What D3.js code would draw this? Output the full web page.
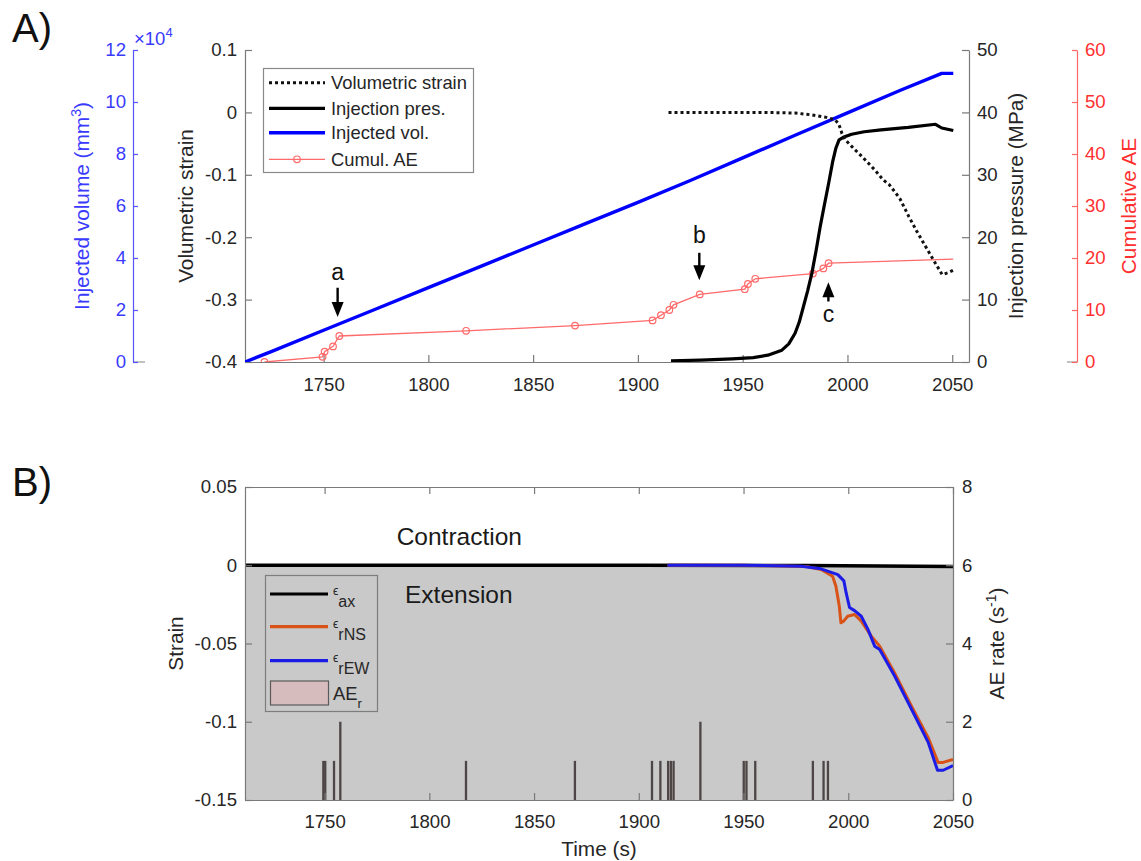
<!DOCTYPE html>
<html><head><meta charset="utf-8">
<script src="https://cdn.jsdelivr.net/npm/d3@7"></script>
<style>
html,body{margin:0;padding:0;background:#fff;}
svg{display:block;}
text{font-family:"Liberation Sans",Arial,Helvetica,sans-serif;}
</style></head>
<body>
<svg id="chart" width="1141" height="861"></svg>
<script>
// ---------------- DATA ----------------
// Panel A
const injVolTime = [1712.5,1725,1750,1775,1800,1825,1850,1875,1900,1925,1950,1975,2000,2025,2045,2050.5];
const injVolValue = [0,0.40,1.22,2.04,2.86,3.68,4.50,5.32,6.14,6.98,7.85,8.72,9.58,10.44,11.10,11.10]; // x1e4 mm3

const presTime = [1915.8,1930,1945,1955,1962,1968.7,1972,1975,1977,1979,1981,1983,1985,1987,1989,1991,1993,1994.5,1996,1998,2002,2008,2016,2029,2042,2045,2050.5];
const presValue = [0.2,0.3,0.5,0.7,1.1,1.9,2.9,4.6,6.4,8.9,11.4,14.2,17.8,21.7,25.2,28.6,32.2,34.3,35.6,36.0,36.5,36.9,37.2,37.6,38.1,37.5,37.1]; // MPa

const volStrainTime = [1914.6,1940,1960,1975,1983,1990,1994,1995.8,1997.4,1999,2003,2007,2013,2017,2020,2025,2029.3,2033,2037.3,2042,2045.2,2048,2050.5];
const volStrainValue = [0,0,0,-0.001,-0.004,-0.008,-0.012,-0.018,-0.034,-0.044,-0.058,-0.071,-0.092,-0.108,-0.116,-0.138,-0.167,-0.19,-0.215,-0.242,-0.26,-0.257,-0.253];

const cumAETime = [1721.8,1749.5,1750.5,1754.5,1757.5,1818,1870,1907,1911,1915,1917,1929.5,1951,1952.5,1956,1983.5,1988.5,1991,2050.5];
const cumAEValue = [0,1,2,3,5,6,7,8,9,10,11,13,14,15,16,17,18,19,19.8];
const cumAEMarker = [1,1,1,1,1,1,1,1,1,1,1,1,1,1,1,1,1,1,0];

const arrowLabels = ["a","b","c"];
const arrowTime = [1756.7,1929.3,1990.9];
const arrowTail = [-0.281,-0.225,-0.303];   // in volumetric-strain axis units
const arrowTip = [-0.328,-0.269,-0.272];
const arrowText = [-0.269,-0.209,-0.336];

const topXTicks = [1750,1800,1850,1900,1950,2000,2050];
const volStrainTicks = [-0.4,-0.3,-0.2,-0.1,0,0.1];
const injVolTicks = [0,2,4,6,8,10,12];
const presTicks = [0,10,20,30,40,50];
const cumAETicks = [0,10,20,30,40,50,60];

// Panel B
const axTime = [1712,1900,1980,2050];
const axValue = [0,0,-0.0002,-0.0008];
const rNSTime = [1913.7,1950,1980,1987,1992.5,1994.1,1995.7,1996.5,1997.8,1999.7,2003,2006.2,2011,2015,2022.2,2030.2,2038.1,2042.9,2045.3,2050];
const rNSValue = [0,0,-0.0008,-0.0027,-0.007,-0.0134,-0.026,-0.0368,-0.0357,-0.0326,-0.0315,-0.0357,-0.0453,-0.0517,-0.069,-0.09,-0.11,-0.126,-0.126,-0.124];
const rEWTime = [1913.7,1950,1977.5,1987,1995,1997.9,1999,2000.6,2003,2006.2,2009.4,2012.6,2015,2022.2,2030.2,2038.1,2042.6,2045.3,2050];
const rEWValue = [0,0,-0.0006,-0.0023,-0.006,-0.010,-0.0177,-0.027,-0.029,-0.0326,-0.041,-0.0517,-0.0538,-0.0709,-0.092,-0.113,-0.131,-0.131,-0.128];

const aeRateTime = [1749.4,1750.3,1754.5,1757.5,1817.5,1869.5,1906.3,1910.3,1914,1915.3,1916.6,1929.4,1950.1,1951.4,1955.6,1983.1,1988.2,1990.3];
const aeRateValue = [1,1,1,2,1,1,1,1,1,1,1,2,1,1,1,1,1,1];

const botXTicks = [1750,1800,1850,1900,1950,2000,2050];
const strainTicks = [-0.15,-0.1,-0.05,0,0.05];
const rateTicks = [0,2,4,6,8];

// ---------------- STYLE ----------------
const TXT = "#262626", AXC = "#7a7a7a";
const BLUE = "#0000ff", BLUETXT = "#3a3aff", RED = "#ff3030", REDLINE = "#ff6a6a";
const ORANGE = "#d95319", BLUE2 = "#1c1ce6", GREYFILL = "#c9c9c9";
const TICKFS = 18.6, LABFS = 20.8, LEGFS = 18.4;

const svg = d3.select("#chart");
const zip = (a,b) => a.map((t,i)=>[t,b[i]]);

// ---------------- PANEL A ----------------
const xT = d3.scaleLinear().domain([1712.5,2058]).range([245,969]);
const yVS = d3.scaleLinear().domain([-0.4,0.1]).range([362,50]);
const yIV = d3.scaleLinear().domain([0,12]).range([362,50]);
const yP = d3.scaleLinear().domain([0,50]).range([362,50]);
const yAE = d3.scaleLinear().domain([0,60]).range([362,50]);

svg.append("text").attr("x",12).attr("y",42).attr("font-size",40).attr("fill","#111").text("A)");
svg.append("text").attr("x",12).attr("y",496).attr("font-size",40).attr("fill","#111").text("B)");

const defs = svg.append("defs");
defs.append("clipPath").attr("id","clipA").append("rect")
  .attr("x",xT.range()[0]).attr("y",yVS.range()[1]-5)
  .attr("width",xT.range()[1]-xT.range()[0]).attr("height",yVS.range()[0]-yVS.range()[1]+5);

function styleAxis(g, color, lineColor){
  g.selectAll("path.domain").attr("stroke",lineColor||AXC).attr("stroke-width",1.2);
  g.selectAll(".tick line").attr("stroke",lineColor||AXC).attr("stroke-width",1.2);
  g.selectAll(".tick text").attr("fill",color).attr("font-size",TICKFS)
    .attr("font-family",'"Liberation Sans",Arial,sans-serif');
}
const fmt = d => String(+d.toFixed(4));

// bottom x axis of top panel
const gxT = svg.append("g").attr("transform",`translate(0,${yVS.range()[0]})`)
  .call(d3.axisBottom(xT).tickValues(topXTicks).tickSizeInner(-7).tickSizeOuter(0).tickPadding(15.5).tickFormat(fmt));
styleAxis(gxT, TXT);
// left volumetric strain axis
const gyVS = svg.append("g").attr("transform",`translate(${xT.range()[0]},0)`)
  .call(d3.axisLeft(yVS).tickValues(volStrainTicks).tickSizeInner(-7).tickSizeOuter(0).tickPadding(8).tickFormat(fmt));
styleAxis(gyVS, TXT);
// right pressure axis
const gyP = svg.append("g").attr("transform",`translate(${xT.range()[1]},0)`)
  .call(d3.axisRight(yP).tickValues(presTicks).tickSizeInner(-7).tickSizeOuter(0).tickPadding(8).tickFormat(fmt));
styleAxis(gyP, TXT);
// far-left injected volume axis
const ivX = 133;
svg.append("line").attr("x1",ivX).attr("x2",ivX+12).attr("y1",yIV(0)).attr("y2",yIV(0)).attr("stroke","#999").attr("stroke-width",1.2);
const gyIV = svg.append("g").attr("transform",`translate(${ivX},0)`)
  .call(d3.axisLeft(yIV).tickValues(injVolTicks).tickSizeInner(-5).tickSizeOuter(0).tickPadding(7).tickFormat(fmt));
styleAxis(gyIV, BLUETXT, "#5555ff");
const xm = svg.append("text").attr("x",ivX+1).attr("y",45).attr("fill",BLUETXT).attr("font-size",18.5);
xm.append("tspan").text("×10");
xm.append("tspan").attr("font-size",13).attr("dy",-8).text("4");
// far-right cumulative AE axis
const aeX = 1077;
svg.append("line").attr("x1",aeX-10).attr("x2",aeX).attr("y1",yAE(0)).attr("y2",yAE(0)).attr("stroke","#999").attr("stroke-width",1.2);
const gyAE = svg.append("g").attr("transform",`translate(${aeX},0)`)
  .call(d3.axisRight(yAE).tickValues(cumAETicks).tickSizeInner(-5).tickSizeOuter(0).tickPadding(8).tickFormat(fmt));
styleAxis(gyAE, RED, "#ff6666");

// axis labels panel A
function vlabel(x, y, color, build){
  const t = svg.append("text").attr("transform",`translate(${x},${y}) rotate(-90)`)
    .attr("text-anchor","middle").attr("fill",color).attr("font-size",LABFS);
  build(t);
  return t;
}
const midA = (yVS.range()[0]+yVS.range()[1])/2;
vlabel(89, midA, BLUETXT, t=>{ t.append("tspan").text("Injected volume (mm"); t.append("tspan").attr("font-size",14).attr("dy",-8).text("3"); t.append("tspan").attr("dy",8).text(")"); });
vlabel(193, midA, TXT, t=>t.text("Volumetric strain"));
vlabel(1023, midA, TXT, t=>t.text("Injection pressure (MPa)"));
vlabel(1136, midA, RED, t=>t.text("Cumulative AE"));

// lines panel A
const plotA = svg.append("g").attr("clip-path","url(#clipA)");
plotA.append("path").datum(zip(injVolTime,injVolValue))
  .attr("d", d3.line().x(d=>xT(d[0])).y(d=>yIV(d[1])))
  .attr("fill","none").attr("stroke",BLUE).attr("stroke-width",3.4).attr("stroke-linejoin","round");
const aeData = cumAETime.map((t,i)=>({t, v:cumAEValue[i], m:cumAEMarker[i]}));
plotA.append("path").datum(aeData)
  .attr("d", d3.line().x(d=>xT(d.t)).y(d=>yAE(d.v)))
  .attr("fill","none").attr("stroke",REDLINE).attr("stroke-width",1.3);
plotA.selectAll("circle.ae").data(aeData.filter(d=>d.m)).join("circle").attr("class","ae")
  .attr("cx",d=>xT(d.t)).attr("cy",d=>yAE(d.v)).attr("r",3.3)
  .attr("fill","none").attr("stroke",REDLINE).attr("stroke-width",1.2);
plotA.append("path").datum(zip(presTime,presValue))
  .attr("d", d3.line().x(d=>xT(d[0])).y(d=>yP(d[1])))
  .attr("fill","none").attr("stroke","#000").attr("stroke-width",3.2).attr("stroke-linejoin","round");
plotA.append("path").datum(zip(volStrainTime,volStrainValue))
  .attr("d", d3.line().x(d=>xT(d[0])).y(d=>yVS(d[1])))
  .attr("fill","none").attr("stroke","#111").attr("stroke-width",3).attr("stroke-dasharray","3,3");

// arrows
arrowLabels.forEach((lab,i)=>{
  const x = xT(arrowTime[i]), y1 = yVS(arrowTail[i]), y2 = yVS(arrowTip[i]);
  const dir = Math.sign(y2-y1);
  const headLen = 15, headW = 6;
  svg.append("line").attr("x1",x).attr("x2",x).attr("y1",y1).attr("y2",y2-dir*headLen+dir*1)
    .attr("stroke","#000").attr("stroke-width",2.4);
  svg.append("path").attr("d",`M${x},${y2} L${x-headW},${y2-dir*headLen} L${x+headW},${y2-dir*headLen} Z`).attr("fill","#000");
  svg.append("text").attr("x",x).attr("y",yVS(arrowText[i])).attr("text-anchor","middle")
    .attr("font-size",23).attr("fill","#111").text(lab);
});

// legend panel A
const legA = svg.append("g");
legA.append("rect").attr("x",263.5).attr("y",68.5).attr("width",210).attr("height",104)
  .attr("fill","#fff").attr("stroke","#8a8a8a").attr("stroke-width",1.2);
const legAItems = [
  {label:"Volumetric strain", type:"dot"},
  {label:"Injection pres.", type:"pres"},
  {label:"Injected vol.", type:"vol"},
  {label:"Cumul. AE", type:"ae"}
];
const legARowY = [82.7,108.3,132.7,159.3];
legAItems.forEach((it,i)=>{
  const y = legARowY[i];
  const l = legA.append("line").attr("x1",269).attr("x2",325).attr("y1",y).attr("y2",y);
  if(it.type==="dot") l.attr("stroke","#111").attr("stroke-width",3).attr("stroke-dasharray","3,3");
  if(it.type==="pres") l.attr("stroke","#000").attr("stroke-width",3.2);
  if(it.type==="vol") l.attr("stroke",BLUE).attr("stroke-width",3.6);
  if(it.type==="ae"){ l.attr("stroke",REDLINE).attr("stroke-width",1.3);
    legA.append("circle").attr("cx",297).attr("cy",y).attr("r",3.3).attr("fill","none").attr("stroke",REDLINE).attr("stroke-width",1.2); }
  legA.append("text").attr("x",331).attr("y",y+6.5).attr("font-size",LEGFS).attr("fill",TXT).text(it.label);
});

// ---------------- PANEL B ----------------
const xB = d3.scaleLinear().domain([1712,2050]).range([245,953]);
const yS = d3.scaleLinear().domain([-0.15,0.05]).range([800,487]);
const yR = d3.scaleLinear().domain([0,8]).range([800,487]);

defs.append("clipPath").attr("id","clipB").append("rect")
  .attr("x",xB.range()[0]).attr("y",yS.range()[1])
  .attr("width",xB.range()[1]-xB.range()[0]).attr("height",yS.range()[0]-yS.range()[1]);

const plotB = svg.append("g").attr("clip-path","url(#clipB)");
plotB.append("rect").attr("x",xB.range()[0]).attr("width",xB.range()[1]-xB.range()[0])
  .attr("y",yS(0)).attr("height",yS(-0.15)-yS(0)).attr("fill",GREYFILL);

// AE rate bars
plotB.selectAll("rect.bar").data(zip(aeRateTime,aeRateValue)).join("rect").attr("class","bar")
  .attr("x",d=>xB(d[0]-0.55)).attr("width",d=>xB(d[0]+0.55)-xB(d[0]-0.55))
  .attr("y",d=>yR(d[1])).attr("height",d=>yR(0)-yR(d[1]))
  .attr("fill","#4e4646");

plotB.append("path").datum(zip(axTime,axValue))
  .attr("d", d3.line().x(d=>xB(d[0])).y(d=>yS(d[1])))
  .attr("fill","none").attr("stroke","#000").attr("stroke-width",3.6);
plotB.append("path").datum(zip(rNSTime,rNSValue))
  .attr("d", d3.line().x(d=>xB(d[0])).y(d=>yS(d[1])))
  .attr("fill","none").attr("stroke",ORANGE).attr("stroke-width",3).attr("stroke-linejoin","round");
plotB.append("path").datum(zip(rEWTime,rEWValue))
  .attr("d", d3.line().x(d=>xB(d[0])).y(d=>yS(d[1])))
  .attr("fill","none").attr("stroke",BLUE2).attr("stroke-width",3).attr("stroke-linejoin","round");

svg.append("text").attr("x",xB(1784.4)).attr("y",yS(0.0129)).attr("font-size",24.5)
  .attr("font-family",'"DejaVu Sans",sans-serif').attr("fill","#1a1a1a").text("Contraction");
svg.append("text").attr("x",xB(1788.4)).attr("y",yS(-0.0241)).attr("font-size",24.5)
  .attr("font-family",'"DejaVu Sans",sans-serif').attr("fill","#1a1a1a").text("Extension");

// axes panel B (box)
const gxB = svg.append("g").attr("transform",`translate(0,${yS.range()[0]})`)
  .call(d3.axisBottom(xB).tickValues(botXTicks).tickSizeInner(-7).tickSizeOuter(0).tickPadding(14.7).tickFormat(fmt));
styleAxis(gxB, TXT);
const gxB2 = svg.append("g").attr("transform",`translate(0,${yS.range()[1]})`)
  .call(d3.axisTop(xB).tickValues(botXTicks).tickSizeInner(-7).tickSizeOuter(0).tickFormat(""));
styleAxis(gxB2, TXT);
const gyS = svg.append("g").attr("transform",`translate(${xB.range()[0]},0)`)
  .call(d3.axisLeft(yS).tickValues(strainTicks).tickSizeInner(-7).tickSizeOuter(0).tickPadding(8).tickFormat(fmt));
styleAxis(gyS, TXT);
const gyR = svg.append("g").attr("transform",`translate(${xB.range()[1]},0)`)
  .call(d3.axisRight(yR).tickValues(rateTicks).tickSizeInner(-7).tickSizeOuter(0).tickPadding(9).tickFormat(fmt));
styleAxis(gyR, TXT);

const midB = (yS.range()[0]+yS.range()[1])/2;
vlabel(183, midB, TXT, t=>t.text("Strain"));
vlabel(1004, midB, TXT, t=>{ t.append("tspan").text("AE rate (s"); t.append("tspan").attr("font-size",14).attr("dy",-8).text("-1"); t.append("tspan").attr("dy",8).text(")"); });
svg.append("text").attr("x",(xB.range()[0]+xB.range()[1])/2).attr("y",856).attr("text-anchor","middle")
  .attr("font-size",LABFS).attr("fill",TXT).text("Time (s)");

// legend panel B
const legB = svg.append("g");
legB.append("rect").attr("x",265.5).attr("y",575.5).attr("width",112).attr("height",136)
  .attr("fill",GREYFILL).attr("stroke","#7d7d7d").attr("stroke-width",1.2);
const legBItems = [
  {sub:"ax", color:"#000"},
  {sub:"rNS", color:ORANGE},
  {sub:"rEW", color:BLUE2}
];
const legBRowY = [594,626.7,660.7];
legBItems.forEach((it,i)=>{
  const y = legBRowY[i];
  legB.append("line").attr("x1",270).attr("x2",328).attr("y1",y).attr("y2",y)
    .attr("stroke",it.color).attr("stroke-width",3.2);
  const t = legB.append("text").attr("x",333).attr("y",y+1).attr("fill",TXT).attr("font-size",12);
  t.append("tspan").text("ϵ");
  t.append("tspan").attr("font-size",16).attr("dy",12).text(it.sub);
});
legB.append("rect").attr("x",270.5).attr("y",681).attr("width",58).attr("height",24)
  .attr("fill","#d6bcbc").attr("stroke","#5a5a5a").attr("stroke-width",1.2);
const aet = legB.append("text").attr("x",333).attr("y",700).attr("fill",TXT).attr("font-size",LEGFS);
aet.append("tspan").text("AE");
aet.append("tspan").attr("font-size",13).attr("dy",8).text("r");
</script>
</body></html>
